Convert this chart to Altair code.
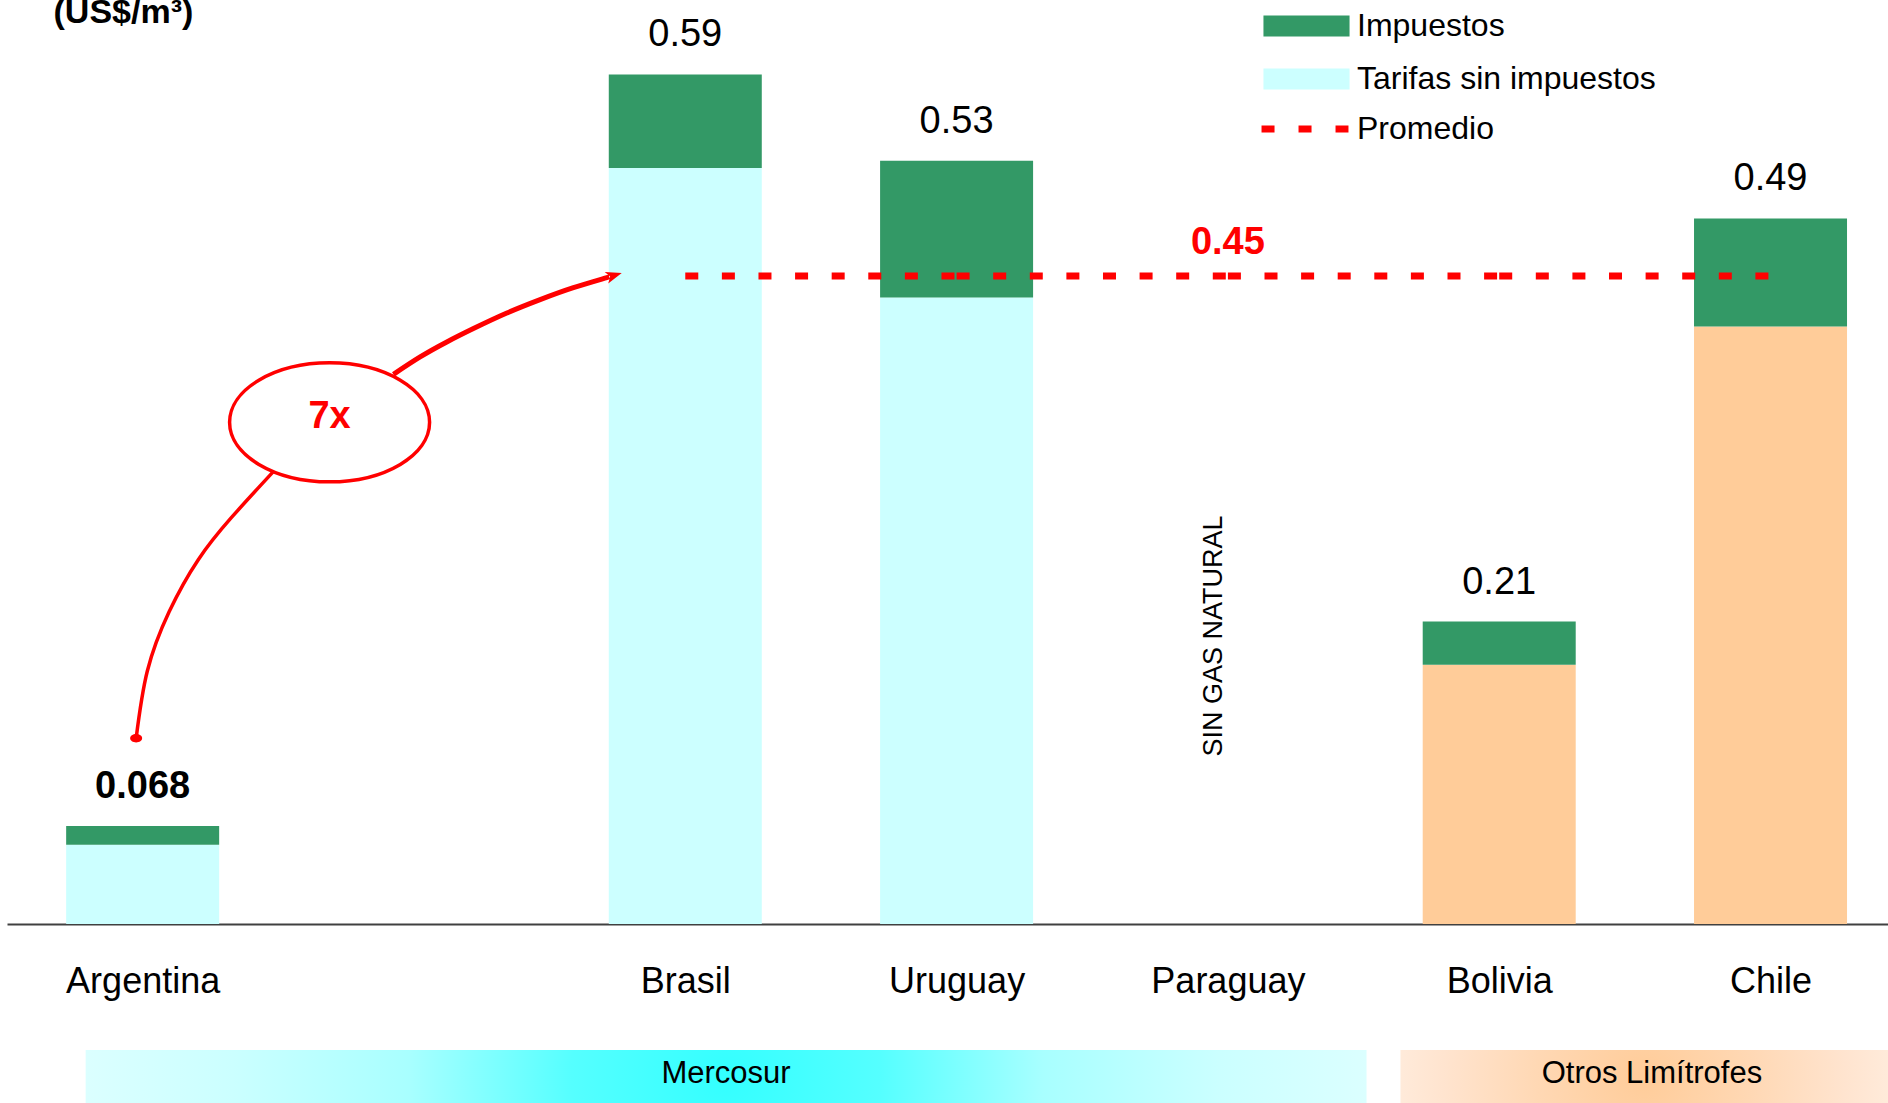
import altair as alt
import pandas as pd

FONT = "Liberation Sans"
RED = "#ff0000"

# Residential natural-gas tariffs, US$/m3 (Paraguay has no natural gas network)
paises = ["Argentina", "Brasil", "Uruguay", "Paraguay", "Bolivia", "Chile"]
posicion = [0, 2, 3, 4, 5, 6]          # slot on the x axis (slot 1 left empty)
grupo = ["Mercosur", "Mercosur", "Mercosur", "Mercosur",
         "Otros Limítrofes", "Otros Limítrofes"]
tarifa_total = [0.068, 0.59, 0.53, None, 0.21, 0.49]
tarifa_sin_impuestos = [0.055, 0.525, 0.435, None, 0.18, 0.415]
promedio = 0.45

# Region bands under the axis (x in slot units)
regiones = ["Mercosur", "Otros Limítrofes"]
region_desde = [-0.21, 4.636]
region_hasta = [4.511, 6.433]
region_rotulo = [2.15, 5.563]

# "7x" call-out: curve from the Argentina value up towards the average
curva_bajo_x = [-0.024, 0.017, 0.098, 0.205, 0.326, 0.481]
curva_bajo_y = [0.129, 0.1755, 0.217, 0.253, 0.282, 0.314]
curva_alto_x = [0.9243, 1.0227, 1.1211, 1.2192, 1.3423, 1.4650, 1.5877, 1.7108, 1.723]
curva_alto_y = [0.3817, 0.3938, 0.4042, 0.4135, 0.4243, 0.4336, 0.4419, 0.4489, 0.4498]
ovalo = (0.689, 0.3484)
punta_flecha = (1.7377, 0.4505)
texto_sin_gas = (4, 0.2)

# ---------------------------------------------------------------- tables
filas = []
for p, x, g, t, s in zip(paises, posicion, grupo, tarifa_total, tarifa_sin_impuestos):
    if t is None:
        continue
    base = "Tarifas sin impuestos" if g == "Mercosur" else "Tarifas sin impuestos (otros)"
    filas.append(dict(pais=p, pos=x, comp=base, v0=0.0, v1=s))
    filas.append(dict(pais=p, pos=x, comp="Impuestos", v0=s, v1=t))
barras = pd.DataFrame(filas)

etiquetas = pd.DataFrame([
    dict(pais=p, pos=x, val=t, texto=str(t))
    for p, x, t in zip(paises, posicion, tarifa_total) if t is not None
])

tramos = []
for k in range(1, len(posicion) - 1):
    for x in (posicion[k], posicion[k + 1]):
        tramos.append(dict(tramo=k, pos=x, val=promedio, serie="Promedio"))
linea_prom = pd.DataFrame(tramos)

curva_bajo = pd.DataFrame(dict(orden=range(len(curva_bajo_x)), pos=curva_bajo_x, val=curva_bajo_y))
curva_alto = pd.DataFrame(dict(orden=range(len(curva_alto_x)), pos=curva_alto_x, val=curva_alto_y))

bandas = pd.DataFrame(dict(region=regiones, pos=region_desde, pos2=region_hasta,
                           centro=region_rotulo))

# ---------------------------------------------------------------- scales / axes
xs = alt.Scale(domain=[-0.5, 6.433], nice=False, zero=False, padding=0)
ys = alt.Scale(domain=[0, 0.6403], nice=False, zero=False, padding=0)

label_expr = " : ".join(
    f"datum.value == {x} ? '{p}'" for x, p in zip(posicion, paises)
) + " : ''"

x_axis = alt.Axis(
    values=posicion, labelExpr=label_expr, title=None, grid=False,
    ticks=False, tickSize=0, domain=True, domainColor="#404040", domainWidth=2,
    labelFont=FONT, labelFontSize=36, labelColor="black", labelPadding=68,
    labelBaseline="alphabetic", labelFlush=False, labelOverlap=False,
)
y_axis = alt.Axis(
    title="(US$/m³)", labels=False, ticks=False, domain=False, grid=False,
    titleAngle=0, titleX=46, titleY=20, titleAlign="left",
    titleBaseline="alphabetic", titleFont=FONT, titleFontSize=34,
    titleFontWeight="bold", titleColor="black",
)


def X(field="pos"):
    return alt.X(f"{field}:Q", scale=xs, axis=x_axis)


def Y(field="val"):
    return alt.Y(f"{field}:Q", scale=ys, axis=y_axis)


# ---------------------------------------------------------------- layers
componentes = ["Impuestos", "Tarifas sin impuestos", "Tarifas sin impuestos (otros)"]
colores = ["#339966", "#ccffff", "#ffcc99"]

capa_barras = alt.Chart(barras).mark_bar(size=153).encode(
    x=X("pos"),
    y=Y("v1"),
    y2="v0:Q",
    fill=alt.Fill(
        "comp:N",
        scale=alt.Scale(domain=componentes, range=colores),
        legend=alt.Legend(
            orient="none", legendX=1283.5, legendY=8, title=None,
            values=componentes[:2], direction="vertical",
            symbolType="M-4.1,-1H4.1V1H-4.1Z", symbolSize=441,
            symbolStrokeWidth=0, labelOffset=34.5, rowPadding=21,
            labelFont=FONT, labelFontSize=32, labelColor="black",
            labelLimit=600, padding=0,
        ),
    ),
)

texto_valor = alt.Chart(etiquetas).transform_filter(
    "datum.pais != 'Argentina'"
).mark_text(
    font=FONT, fontSize=38, color="black", baseline="alphabetic", dy=-28
).encode(x=X("pos"), y=Y("val"), text="texto:N")

texto_valor_arg = alt.Chart(etiquetas).transform_filter(
    "datum.pais == 'Argentina'"
).mark_text(
    font=FONT, fontSize=38, fontWeight="bold", color="black",
    baseline="alphabetic", dy=-28,
).encode(x=X("pos"), y=Y("val"), text="texto:N")

capa_promedio = alt.Chart(linea_prom).mark_line(
    strokeWidth=7, strokeDash=[13, 23.6], strokeCap="butt"
).encode(
    x=X("pos"),
    y=Y("val"),
    detail="tramo:N",
    stroke=alt.Stroke(
        "serie:N",
        scale=alt.Scale(domain=["Promedio"], range=[RED]),
        legend=alt.Legend(
            orient="none", legendX=1282, legendY=111, title=None,
            symbolType="M-4.14,0H4.14", symbolSize=441, symbolStrokeWidth=7,
            symbolDash=[13, 24], symbolStrokeColor=RED, labelOffset=36,
            labelFont=FONT, labelFontSize=32, labelColor="black",
            labelLimit=600, padding=0,
        ),
    ),
)

texto_promedio = alt.Chart(
    pd.DataFrame(dict(pos=[posicion[3]], val=[promedio], texto=[str(promedio)]))
).mark_text(
    font=FONT, fontSize=38, fontWeight="bold", color=RED,
    baseline="alphabetic", dy=-22,
).encode(x=X("pos"), y=Y("val"), text="texto:N")

texto_paraguay = alt.Chart(
    pd.DataFrame(dict(pos=[texto_sin_gas[0]], val=[texto_sin_gas[1]], texto=["SIN GAS NATURAL"]))
).mark_text(
    font=FONT, fontSize=27, color="black", angle=270, align="center",
    baseline="alphabetic", dy=-6,
).encode(x=X("pos"), y=Y("val"), text="texto:N")

# call-out: curved connector, start dot, oval with "7x", arrow head
capa_curva_bajo = alt.Chart(curva_bajo).mark_line(
    color=RED, strokeWidth=3.5, interpolate="natural"
).encode(x=X("pos"), y=Y("val"), order="orden:Q")

capa_curva_alto = alt.Chart(curva_alto).mark_line(
    color=RED, strokeWidth=5, interpolate="natural"
).encode(x=X("pos"), y=Y("val"), order="orden:Q")

punto_inicio = alt.Chart(
    pd.DataFrame(dict(pos=[curva_bajo_x[0]], val=[curva_bajo_y[0]]))
).mark_point(
    shape="M-1,0A1,0.7,0,1,0,1,0A1,0.7,0,1,0,-1,0Z", size=144,
    filled=True, fill=RED, opacity=1, strokeWidth=0,
).encode(x=X("pos"), y=Y("val"))

capa_ovalo = alt.Chart(
    pd.DataFrame(dict(pos=[ovalo[0]], val=[ovalo[1]]))
).mark_point(
    shape="M-1,0A1,0.595,0,1,0,1,0A1,0.595,0,1,0,-1,0Z", size=40000,
    filled=True, fill="white", stroke=RED, strokeWidth=3.5, opacity=1,
).encode(x=X("pos"), y=Y("val"))

texto_7x = alt.Chart(
    pd.DataFrame(dict(pos=[ovalo[0]], val=[ovalo[1]], texto=["7x"]))
).mark_text(
    font=FONT, fontSize=38, fontWeight="bold", color=RED,
    baseline="alphabetic", dy=6,
).encode(x=X("pos"), y=Y("val"), text="texto:N")

capa_flecha = alt.Chart(
    pd.DataFrame(dict(pos=[punta_flecha[0]], val=[punta_flecha[1]]))
).mark_point(
    shape="M1,0L-1,-0.75L-0.5,0L-1,0.75Z", size=256, angle=343,
    filled=True, fill=RED, opacity=1, strokeWidth=0,
).encode(x=X("pos"), y=Y("val"))

# region bands below the axis
grad_mercosur = {
    "gradient": "radial", "x1": 0.5, "y1": 0.5, "r1": 0, "x2": 0.5, "y2": 0.5, "r2": 0.55,
    "stops": [
        {"offset": 0, "color": "#33ffff"},
        {"offset": 0.22, "color": "#55ffff"},
        {"offset": 0.45, "color": "#a8ffff"},
        {"offset": 0.7, "color": "#cbffff"},
        {"offset": 1, "color": "#e2ffff"},
    ],
}
grad_otros = {
    "gradient": "radial", "x1": 0.5, "y1": 0.5, "r1": 0, "x2": 0.5, "y2": 0.5, "r2": 0.55,
    "stops": [
        {"offset": 0, "color": "#ffcc99"},
        {"offset": 0.4, "color": "#ffd8b4"},
        {"offset": 0.75, "color": "#ffe4cf"},
        {"offset": 1, "color": "#ffeee0"},
    ],
}

banda_mercosur = alt.Chart(bandas).transform_filter(
    "datum.region == 'Mercosur'"
).mark_rect(fill=grad_mercosur).encode(
    x=X("pos"), x2="pos2:Q", y=alt.value(1048), y2=alt.value(1101)
)
banda_otros = alt.Chart(bandas).transform_filter(
    "datum.region != 'Mercosur'"
).mark_rect(fill=grad_otros).encode(
    x=X("pos"), x2="pos2:Q", y=alt.value(1048), y2=alt.value(1101)
)
texto_bandas = alt.Chart(bandas).mark_text(
    font=FONT, fontSize=31, color="black", baseline="alphabetic", align="center"
).encode(x=X("centro"), y=alt.value(1081), text="region:N")

chart = alt.layer(
    banda_mercosur, banda_otros, texto_bandas,
    capa_barras, capa_promedio, texto_valor, texto_valor_arg, texto_promedio,
    texto_paraguay, capa_curva_bajo, capa_curva_alto, punto_inicio, capa_ovalo,
    texto_7x, capa_flecha,
).properties(
    width=1881, height=922, autosize="none",
    padding={"left": 7, "top": 2, "right": 0, "bottom": 179},
    background="white",
).configure(font=FONT).configure_view(stroke="transparent", strokeWidth=0)

chart.save("out.html", embed_options={"renderer": "svg", "actions": False})
